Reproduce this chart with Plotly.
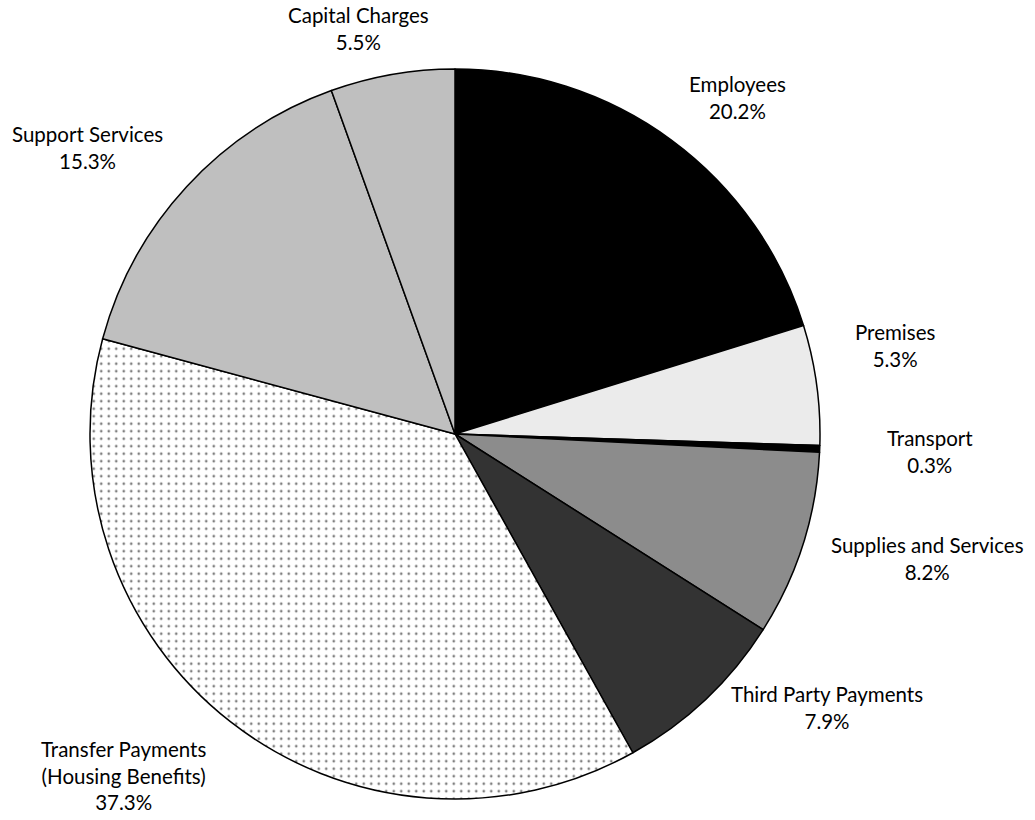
import plotly.graph_objects as go

categories = ["Employees", "Premises", "Transport", "Supplies and Services",
              "Third Party Payments", "Transfer Payments (Housing Benefits)",
              "Support Services", "Capital Charges"]
display_names = ["Employees", "Premises", "Transport", "Supplies and Services",
                 "Third Party Payments", "Transfer Payments<br>(Housing Benefits)",
                 "Support Services", "Capital Charges"]
values = [20.2, 5.3, 0.3, 8.2, 7.9, 37.3, 15.3, 5.5]

colors = ["#000000", "#ebebeb", "#000000", "#8c8c8c", "#333333", "#ffffff", "#bfbfbf", "#bfbfbf"]
pattern_shapes = ["", "", "", "", "", ".", "", ""]

# label block centres in pixels (layout only)
W, H = 1035, 820
label_px = [(737, 97), (895, 346), (930, 451), (927, 558), (827, 707), (123, 775), (87, 148), (358, 28)]

cx, cy, r = 455, 434, 365

fig = go.Figure(go.Pie(
    labels=categories,
    values=values,
    sort=False,
    direction="clockwise",
    rotation=0,
    textinfo="none",
    hoverinfo="label+percent",
    marker=dict(
        colors=colors,
        line=dict(color="#000000", width=1.5),
        pattern=dict(shape=pattern_shapes, fgcolor="#000000", bgcolor="#ffffff",
                     size=7.5, solidity=0.1, fillmode="overlay"),
    ),
    domain=dict(x=[(cx - r) / W, (cx + r) / W], y=[(H - cy - r) / H, (H - cy + r) / H]),
    showlegend=False,
))

total = sum(values)
annotations = []
for name, v, (px, py) in zip(display_names, values, label_px):
    annotations.append(dict(
        x=px / W, y=1 - py / H, xref="paper", yref="paper",
        xanchor="center", yanchor="middle", showarrow=False,
        text=f"{name}<br>{v / total * 100:.1f}%",
        font=dict(family="Lato, Open Sans, sans-serif", size=20.5, color="#000000"),
        align="center",
    ))

fig.update_layout(
    width=W, height=H,
    margin=dict(l=0, r=0, t=0, b=0),
    paper_bgcolor="#ffffff",
    plot_bgcolor="#ffffff",
    annotations=annotations,
)

fig.write_html("out.html", config={"displayModeBar": False},
               post_script="document.body.style.margin='0';")
